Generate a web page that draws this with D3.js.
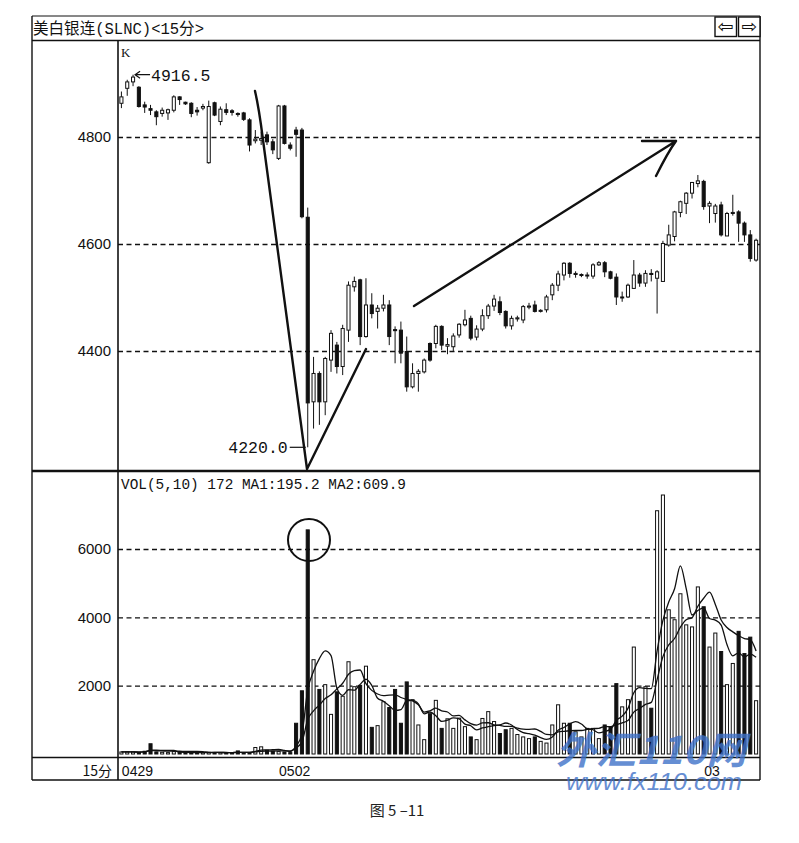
<!DOCTYPE html>
<html>
<head>
<meta charset="utf-8">
<script src="https://cdn.jsdelivr.net/npm/d3@7"></script>
<style>
body { margin: 0; background: #fff; }
svg { display: block; }
</style>
</head>
<body>
<svg width="799" height="843"></svg>
<script>
// 15 minute bars, 0429 .. 0503
const opens = [4863, 4891, 4903, 4893, 4860, 4853, 4847, 4844, 4845, 4850,
    4875, 4865, 4863, 4850, 4854, 4752, 4864, 4829, 4851, 4849,
    4844, 4845, 4832, 4793, 4794, 4804, 4791, 4760, 4858, 4785,
    4813, 4813, 4650, 4305, 4358, 4305, 4383, 4411, 4371, 4439,
    4520, 4533, 4427, 4486, 4474, 4480, 4486, 4440, 4439, 4399,
    4333, 4358, 4361, 4414, 4414, 4446, 4409, 4408, 4430, 4449,
    4461, 4426, 4441, 4466, 4484, 4492, 4474, 4447, 4460, 4458,
    4482, 4486, 4474, 4477, 4505, 4523, 4542, 4564, 4543, 4542,
    4541, 4540, 4561, 4565, 4548, 4538, 4500, 4501, 4517, 4542,
    4527, 4545, 4536, 4530, 4598, 4614, 4659, 4676, 4695, 4713,
    4717, 4671, 4657, 4673, 4615, 4657, 4660, 4639, 4617, 4570];
const highs = [4885, 4907, 4916.5, 4895, 4866, 4860, 4850, 4855, 4853, 4878,
    4876, 4866, 4865, 4856, 4862, 4868, 4866, 4857, 4863, 4852,
    4846, 4847, 4835, 4813, 4810, 4810, 4796, 4860, 4860, 4790,
    4819, 4817, 4668, 4389, 4362, 4389, 4439, 4417, 4449, 4530,
    4539, 4535, 4536, 4508, 4486, 4505, 4495, 4446, 4455, 4427,
    4377, 4366, 4386, 4416, 4449, 4448, 4424, 4433, 4452, 4477,
    4466, 4448, 4478, 4488, 4505, 4502, 4476, 4466, 4466, 4486,
    4490, 4494, 4478, 4505, 4527, 4550, 4566, 4566, 4549, 4545,
    4547, 4564, 4568, 4568, 4550, 4545, 4511, 4526, 4570, 4546,
    4551, 4553, 4551, 4606, 4636, 4662, 4681, 4697, 4716, 4729,
    4720, 4680, 4675, 4679, 4660, 4692, 4663, 4642, 4626, 4610];
const lows = [4854, 4877, 4895, 4855, 4845, 4841, 4822, 4838, 4832, 4846,
    4860, 4860, 4837, 4840, 4850, 4750, 4839, 4822, 4841, 4840,
    4838, 4830, 4773, 4788, 4785, 4785, 4768, 4757, 4786, 4775,
    4763, 4648, 4220, 4255, 4262, 4280, 4361, 4358, 4355, 4417,
    4511, 4411, 4425, 4461, 4442, 4474, 4411, 4377, 4377, 4324,
    4330, 4324, 4358, 4380, 4405, 4402, 4394, 4400, 4425, 4446,
    4420, 4420, 4437, 4460, 4475, 4467, 4442, 4440, 4455, 4452,
    4478, 4472, 4472, 4472, 4495, 4512, 4532, 4537, 4537, 4538,
    4535, 4535, 4559, 4538, 4534, 4486, 4492, 4499, 4517, 4520,
    4520, 4530, 4470, 4530, 4595, 4605, 4650, 4656, 4685, 4706,
    4664, 4639, 4640, 4614, 4615, 4653, 4604, 4604, 4567, 4567];
const closes = [4875, 4903, 4912, 4857, 4856, 4850, 4838, 4850, 4851, 4875,
    4870, 4862, 4844, 4847, 4857, 4857, 4841, 4852, 4846, 4846,
    4842, 4833, 4785, 4796, 4797, 4791, 4776, 4858, 4788, 4779,
    4805, 4651, 4303, 4358, 4305, 4386, 4433, 4371, 4442, 4523,
    4530, 4427, 4486, 4470, 4480, 4486, 4427, 4438, 4396, 4333,
    4358, 4362, 4383, 4383, 4446, 4411, 4412, 4428, 4450, 4458,
    4424, 4441, 4466, 4484, 4497, 4472, 4447, 4461, 4462, 4483,
    4484, 4474, 4476, 4501, 4523, 4544, 4564, 4545, 4545, 4543,
    4542, 4561, 4565, 4548, 4536, 4501, 4501, 4523, 4542, 4527,
    4545, 4543, 4548, 4601, 4617, 4660, 4679, 4695, 4715, 4718,
    4670, 4676, 4671, 4617, 4657, 4659, 4639, 4617, 4573, 4607];
const volumes = [60, 60, 60, 50, 80, 300, 60, 50, 40, 70,
    40, 30, 30, 60, 40, 50, 40, 40, 40, 40,
    90, 40, 40, 190, 210, 110, 80, 70, 60, 40,
    900, 1850, 6560, 2760, 1890, 2030, 1160, 1820, 1690, 2700,
    1970, 2010, 2570, 780, 830, 1530, 1360, 1890, 900, 2110,
    1590, 850, 420, 1180, 1570, 750, 1030, 750, 1050, 800,
    500, 420, 1040, 1240, 950, 600, 710, 750, 570, 500,
    450, 500, 370, 320, 850, 1440, 900, 900, 650, 500,
    750, 750, 450, 850, 800, 2060, 1380, 1590, 3130, 1540,
    1970, 1340, 7120, 7580, 4220, 3930, 4690, 3780, 3720, 4890,
    4310, 3130, 3540, 3000, 2030, 2650, 3590, 2940, 3420, 1560];

const priceTicks = [4400, 4600, 4800];
const volTicks = [2000, 4000, 6000];
const dateLabels = ["0429", "0502", "03"];
const dateIndex = [0, 27, 100];

const svg = d3.select("svg");
const ink = "#111";
const mono = "'Liberation Mono', 'DejaVu Sans Mono', monospace";
const sans = "'Liberation Sans', Arial, sans-serif";
const cjk = "'Noto Sans CJK SC', sans-serif";

const n = opens.length;
const idx = d3.range(n);
const x = d3.scaleBand().domain(idx).range([118.5, 759]).paddingInner(0.3).paddingOuter(0.15);
const bw = x.bandwidth();
const cx = i => x(i) + bw / 2;
const y = d3.scaleLinear().domain([4400, 4800]).range([351, 137]);
const yv = d3.scaleLinear().domain([0, 6000]).range([754, 549]);
const up = i => closes[i] >= opens[i];

// grids + left labels
function grid(scale, ticks) {
    const g = svg.append("g")
        .attr("transform", "translate(118,0)")
        .call(d3.axisLeft(scale).tickValues(ticks).tickSize(-642).tickPadding(7).tickFormat(d3.format("d")));
    g.select(".domain").remove();
    g.selectAll(".tick line")
        .attr("stroke", ink)
        .attr("stroke-width", 1.4)
        .attr("stroke-dasharray", "5,3.5");
    g.selectAll(".tick text")
        .attr("fill", ink)
        .style("font-family", sans)
        .style("font-size", "15px");
}
grid(y, priceTicks);
grid(yv, volTicks);

// frame
const frame = [
    [32, 16, 760, 16, 1], [32, 40.5, 760, 40.5, 1.6],
    [32, 16, 32, 780, 1.4], [760, 16, 760, 780, 1.4],
    [118, 40, 118, 780, 1.6], [32, 471, 760, 471, 2.6],
    [32, 757.5, 760, 757.5, 1.6], [32, 780, 760, 780, 1.6]
];
svg.append("g").selectAll("line").data(frame).join("line")
    .attr("x1", d => d[0]).attr("y1", d => d[1])
    .attr("x2", d => d[2]).attr("y2", d => d[3])
    .attr("stroke", ink).attr("stroke-width", d => d[4]);

// title + buttons
svg.append("text").attr("x", 33).attr("y", 34)
    .attr("textLength", 171).attr("lengthAdjust", "spacingAndGlyphs")
    .style("font-family", mono + ", 'Noto Sans CJK SC'").style("font-size", "16px")
    .attr("fill", ink).text("美白银连(SLNC)<15分>");
const btn = svg.append("g");
[[715, "⇦"], [738.5, "⇨"]].forEach(b => {
    btn.append("rect").attr("x", b[0]).attr("y", 17).attr("width", 21.5).attr("height", 19.5)
        .attr("fill", "#fff").attr("stroke", ink).attr("stroke-width", 1.4);
    btn.append("text").attr("x", b[0] + 10.8).attr("y", 33).attr("text-anchor", "middle")
        .style("font-family", "'DejaVu Sans'").style("font-size", "19px").attr("fill", ink).text(b[1]);
});

// candles
const candles = svg.append("g").selectAll("g").data(idx).join("g");
candles.append("line")
    .attr("x1", cx).attr("x2", cx)
    .attr("y1", i => y(highs[i])).attr("y2", i => y(lows[i]))
    .attr("stroke", ink).attr("stroke-width", 1);
candles.append("rect")
    .attr("x", i => x(i) + 0.5).attr("width", bw - 1)
    .attr("y", i => y(Math.max(opens[i], closes[i])))
    .attr("height", i => Math.max(1, Math.abs(y(opens[i]) - y(closes[i]))))
    .attr("fill", i => up(i) ? "#fff" : ink)
    .attr("stroke", ink).attr("stroke-width", 1);

// volume bars
svg.append("g").selectAll("rect").data(idx).join("rect")
    .attr("x", i => x(i) + 0.5).attr("width", bw - 1)
    .attr("y", i => yv(volumes[i]))
    .attr("height", i => yv(0) - yv(volumes[i]))
    .attr("fill", i => up(i) ? "#fff" : ink)
    .attr("stroke", ink).attr("stroke-width", 1);

// MA lines
function movingAvg(vals, k) {
    return vals.map((v, i) => d3.mean(vals.slice(Math.max(0, i - k + 1), i + 1)));
}
const ma1 = movingAvg(volumes, 5);
const ma2 = movingAvg(volumes, 10);
const maLine = d3.line().x((d, i) => cx(i)).y(d => yv(d)).curve(d3.curveMonotoneX);
[ma1, ma2].forEach(m => {
    svg.append("path").attr("d", maLine(m))
        .attr("fill", "none").attr("stroke", ink).attr("stroke-width", 1.3);
});

// panel labels
svg.append("text").attr("x", 121).attr("y", 57)
    .style("font-family", "'Liberation Serif', serif").style("font-size", "13px")
    .attr("fill", ink).text("K");
svg.append("text").attr("x", 121).attr("y", 489)
    .attr("textLength", 285).attr("lengthAdjust", "spacingAndGlyphs")
    .style("font-family", mono).style("font-size", "14.5px")
    .attr("fill", ink).text("VOL(5,10) 172 MA1:195.2 MA2:609.9");

// extreme markers
const hiIdx = d3.maxIndex(highs), loIdx = d3.minIndex(lows);
const mark = svg.append("g").attr("stroke", ink).attr("stroke-width", 1.2).attr("fill", "none");
const hx = cx(hiIdx) + 2, hy = y(highs[hiIdx]);
mark.append("path").attr("d", `M${hx + 15},${hy} L${hx},${hy} M${hx + 5},${hy - 3.5} L${hx},${hy} L${hx + 5},${hy + 3.5}`);
svg.append("text").attr("x", hx + 16).attr("y", hy + 6)
    .style("font-family", mono).style("font-size", "16.5px").attr("fill", ink)
    .text(d3.format(".1f")(highs[hiIdx]));
const lx = cx(loIdx) - 2, ly = y(lows[loIdx]);
mark.append("path").attr("d", `M${lx - 16},${ly} L${lx},${ly}`);
svg.append("text").attr("x", lx - 18).attr("y", ly + 6).attr("text-anchor", "end")
    .style("font-family", mono).style("font-size", "16.5px").attr("fill", ink)
    .text(d3.format(".1f")(lows[loIdx]));

// hand drawn notes
const pen = svg.append("g").attr("stroke", ink).attr("stroke-width", 2.4)
    .attr("fill", "none").attr("stroke-linecap", "round").attr("stroke-linejoin", "round");
pen.append("path").attr("d", "M255,91 Q259,108 263,140 L307,469 L366,349");
pen.append("path").attr("d", "M414,306 L676,141 M642,141 L676,141 Q668,152 656,176");
pen.append("circle").attr("cx", 309).attr("cy", 540).attr("r", 21).attr("stroke-width", 2);

// bottom row
svg.append("text").attr("x", 112).attr("y", 776).attr("text-anchor", "end")
    .style("font-family", cjk).style("font-size", "14px")
    .attr("fill", ink).text("15分");
svg.append("g").selectAll("text").data(dateLabels).join("text")
    .attr("x", (d, i) => x(dateIndex[i]) + 2.5).attr("y", 776)
    .style("font-family", sans).style("font-size", "14px")
    .attr("fill", ink).text(d => d);

// watermark
const wm = svg.append("g").attr("fill", "#3f72c9").attr("opacity", 0.8);
wm.append("text").attr("x", 556).attr("y", 764)
    .attr("textLength", 190).attr("lengthAdjust", "spacingAndGlyphs")
    .style("font-family", cjk).style("font-size", "38px")
    .style("font-weight", "bold").style("font-style", "italic").text("外汇110网");
wm.append("text").attr("x", 566).attr("y", 790)
    .attr("textLength", 176).attr("lengthAdjust", "spacingAndGlyphs")
    .style("font-family", sans).style("font-size", "24px")
    .style("font-style", "italic").text("www.fx110.com");

// caption
svg.append("text").attr("x", 397).attr("y", 816).attr("text-anchor", "middle")
    .style("font-family", cjk).style("font-size", "15px")
    .attr("fill", "#222").text("图 5 –11");
</script>
</body>
</html>
